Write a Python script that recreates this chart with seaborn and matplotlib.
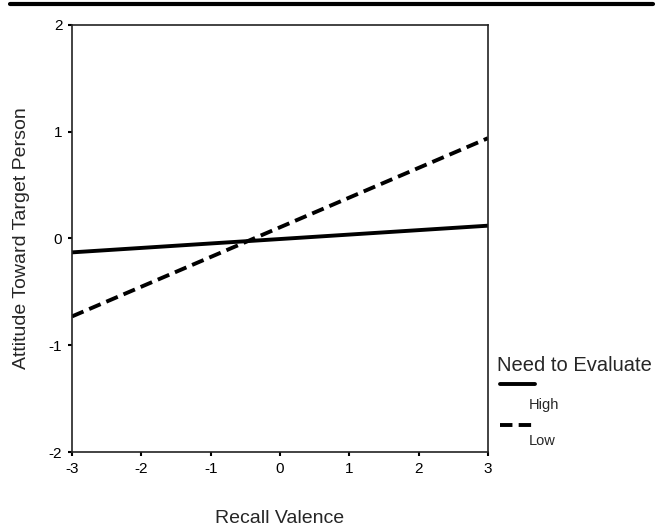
import matplotlib
matplotlib.use("Agg")
import matplotlib.pyplot as plt
from matplotlib.lines import Line2D
import pandas as pd
import seaborn as sns

# simple slopes
recall = [-3, 3]
high_nte = [-0.13, 0.12]
low_nte = [-0.73, 0.94]
groups = ["High", "Low"]

df = pd.DataFrame({
    "Recall Valence": recall + recall,
    "Attitude": high_nte + low_nte,
    "Need to Evaluate": [groups[0]] * 2 + [groups[1]] * 2,
})

sns.set_style("white")
plt.rcParams['font.family'] = ['Liberation Sans', 'DejaVu Sans']
plt.rcParams['axes.unicode_minus'] = False

fig = plt.figure(figsize=(6.63, 5.27), dpi=100)
ax = fig.add_axes([0.1086, 0.1423, 0.6275, 0.8103])

sns.lineplot(data=df, x="Recall Valence", y="Attitude", style="Need to Evaluate",
             dashes={"High": "", "Low": (3.2, 1.6)}, color="black", linewidth=2.8,
             legend=False, ax=ax)

ax.set_xlim(-3, 3)
ax.set_ylim(-2, 2)
ax.set_xticks(range(-3, 4))
ax.set_yticks(range(-2, 3))
ax.tick_params(axis="both", direction="out", length=3, width=1.5, labelsize=11,
               colors="black", pad=4, bottom=True, left=True)
for s in ax.spines.values():
    s.set_color("#222222")
    s.set_linewidth(1.2)

ax.set_xlabel("Recall Valence", fontsize=14)
ax.set_ylabel("Attitude Toward Target Person", fontsize=14)
ax.xaxis.set_label_coords(0.5, -0.135)
ax.yaxis.set_label_coords(-0.1, 0.5)

# rule across the top of the page
fig.add_artist(Line2D([0.015, 0.985], [0.992, 0.992], color="black", linewidth=3,
                      transform=fig.transFigure))

# legend drawn by hand: handle above each label
fig.text(0.749, 0.307, "Need to Evaluate", fontsize=14.5, va="center", ha="left")
fig.add_artist(Line2D([0.754, 0.807], [0.271, 0.271], color="black", linewidth=2.8,
                      transform=fig.transFigure))
fig.text(0.797, 0.232, groups[0], fontsize=10.5, va="center", ha="left")
fig.add_artist(Line2D([0.754, 0.807], [0.194, 0.194], color="black", linewidth=2.8,
                      dashes=(3.2, 1.6), transform=fig.transFigure))
fig.text(0.797, 0.164, groups[1], fontsize=10.5, va="center", ha="left")

fig.savefig("out.png", dpi=100)
